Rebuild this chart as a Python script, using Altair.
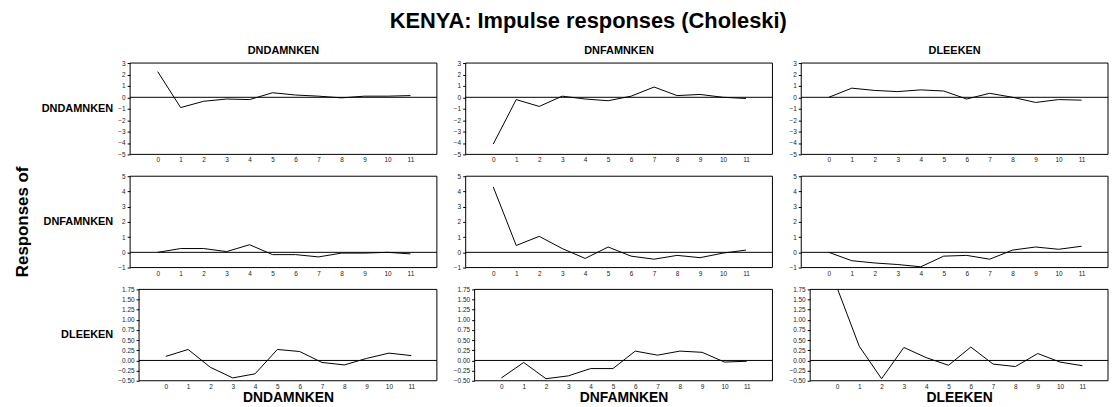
import altair as alt
import pandas as pd

names = ["DNDAMNKEN", "DNFAMNKEN", "DLEEKEN"]
horizons = list(range(12))

# Responses of DNDAMNKEN to shocks in DNDAMNKEN, DNFAMNKEN, DLEEKEN
r_dnd_dnd = [2.25, -0.9, -0.35, -0.15, -0.2, 0.4, 0.2, 0.1, -0.05, 0.1, 0.1, 0.15]
r_dnd_dnf = [-4.1, -0.2, -0.8, 0.1, -0.15, -0.3, 0.1, 0.9, 0.15, 0.25, 0.0, -0.1]
r_dnd_dle = [0.0, 0.8, 0.6, 0.5, 0.65, 0.55, -0.15, 0.35, 0.0, -0.45, -0.2, -0.25]
# Responses of DNFAMNKEN
r_dnf_dnd = [0.0, 0.25, 0.25, 0.05, 0.5, -0.15, -0.15, -0.3, -0.05, -0.05, 0.0, -0.1]
r_dnf_dnf = [4.3, 0.45, 1.05, 0.25, -0.4, 0.35, -0.25, -0.45, -0.2, -0.35, -0.05, 0.15]
r_dnf_dle = [0.0, -0.55, -0.7, -0.8, -0.95, -0.25, -0.2, -0.45, 0.15, 0.35, 0.2, 0.4]
# Responses of DLEEKEN
r_dle_dnd = [0.1, 0.27, -0.17, -0.43, -0.33, 0.27, 0.22, -0.05, -0.11, 0.05, 0.18, 0.12]
r_dle_dnf = [-0.43, -0.05, -0.45, -0.38, -0.2, -0.2, 0.23, 0.13, 0.23, 0.2, -0.04, -0.02]
r_dle_dle = [1.8, 0.35, -0.45, 0.32, 0.07, -0.12, 0.33, -0.09, -0.15, 0.17, -0.04, -0.13]

grid_values = [
    [r_dnd_dnd, r_dnd_dnf, r_dnd_dle],
    [r_dnf_dnd, r_dnf_dnf, r_dnf_dle],
    [r_dle_dnd, r_dle_dnf, r_dle_dle],
]
y_domains = [[-5, 3], [-1, 5], [-0.5, 1.75]]
y_ticks = [
    [-5, -4, -3, -2, -1, 0, 1, 2, 3],
    [-1, 0, 1, 2, 3, 4, 5],
    [-0.5, -0.25, 0.0, 0.25, 0.5, 0.75, 1.0, 1.25, 1.5, 1.75],
]
y_formats = ["d", "d", ".2f"]
main_title = "KENYA: Impulse responses (Choleski)"
side_title = "Responses of"

W, H = 309, 92
INSET = [0, 0, 9]          # plot frame shift for rows with wider tick labels
FONT = "Liberation Sans"


def label(text, size, x, y, align="center", baseline="middle", angle=0):
    kw = dict(fontSize=size, fontWeight="bold", font=FONT, color="black",
              align=align, baseline=baseline)
    if angle:
        kw["angle"] = angle
    return alt.Chart(pd.DataFrame({"t": [text]})).mark_text(**kw).encode(
        x=alt.value(x), y=alt.value(y), text="t:N")


def panel(r, c):
    ins = INSET[r]
    df = pd.DataFrame({"h": horizons, "v": grid_values[r][c]})
    xaxis = dict(values=horizons, format="d", ticks=False, domain=False, grid=False,
                 labelFontSize=6.5, labelPadding=2.5, labelColor="#222222", labelFont=FONT,
                 labelOverlap=False)
    if r == 2:
        xaxis.update(title=names[c], titleFontSize=14, titleFontWeight="bold",
                     titleFont=FONT, titlePadding=1, titleColor="black")
    yaxis = dict(values=y_ticks[r], format=y_formats[r], domain=False, grid=False,
                 tickSize=3, tickColor="black", labelFontSize=6.5, labelPadding=2,
                 labelColor="#222222", labelFont=FONT, labelOverlap=False)
    if ins:
        yaxis["offset"] = -ins
    xscale = alt.Scale(domain=[-1.2, 12.15], range=[ins, W], nice=False, zero=False)
    yscale = alt.Scale(domain=y_domains[r], nice=False, zero=False)
    if r == 2:
        x_enc = alt.X("h:Q", scale=xscale, axis=alt.Axis(**xaxis))
    else:
        x_enc = alt.X("h:Q", scale=xscale, axis=alt.Axis(**xaxis), title=None)
    y_enc = alt.Y("v:Q", scale=yscale, axis=alt.Axis(**yaxis), title=None)
    line = alt.Chart(df).mark_line(color="black", strokeWidth=1, clip=True).encode(x=x_enc, y=y_enc)
    zero = alt.Chart(pd.DataFrame({"z": [0]})).mark_rule(color="black", strokeWidth=1).encode(
        y=alt.Y("z:Q", scale=yscale, axis=alt.Axis(**yaxis), title=None),
        x=alt.value(ins), x2=alt.value(W))
    frame = alt.Chart(pd.DataFrame({"f": [0]})).mark_rect(
        fill="transparent", stroke="black", strokeWidth=1
    ).encode(x=alt.value(ins), x2=alt.value(W), y=alt.value(0), y2=alt.value(H))
    layers = [frame, zero, line]
    if c == 0:
        layers.append(label(names[r], 11, -17, H / 2, align="right"))
    if r == 1 and c == 0:
        layers.append(label(side_title, 17, -108, H / 2, angle=270))
    if r == 0:
        layers.append(label(names[c], 11, W / 2, -12.5))
    if r == 0 and c == 1:
        layers.append(label(main_title, 22, 123.5, -35, baseline="alphabetic"))
    return alt.layer(*layers).properties(width=W, height=H)


panels = [panel(r, c) for r in range(3) for c in range(3)]
chart = alt.concat(*panels, columns=3, spacing={"row": 22, "column": 29}, bounds="flush").properties(
    padding={"left": 5, "top": 0, "right": 0, "bottom": 0},
).configure_view(stroke="transparent")

chart.save("out.html", embed_options={"renderer": "svg", "actions": False})
